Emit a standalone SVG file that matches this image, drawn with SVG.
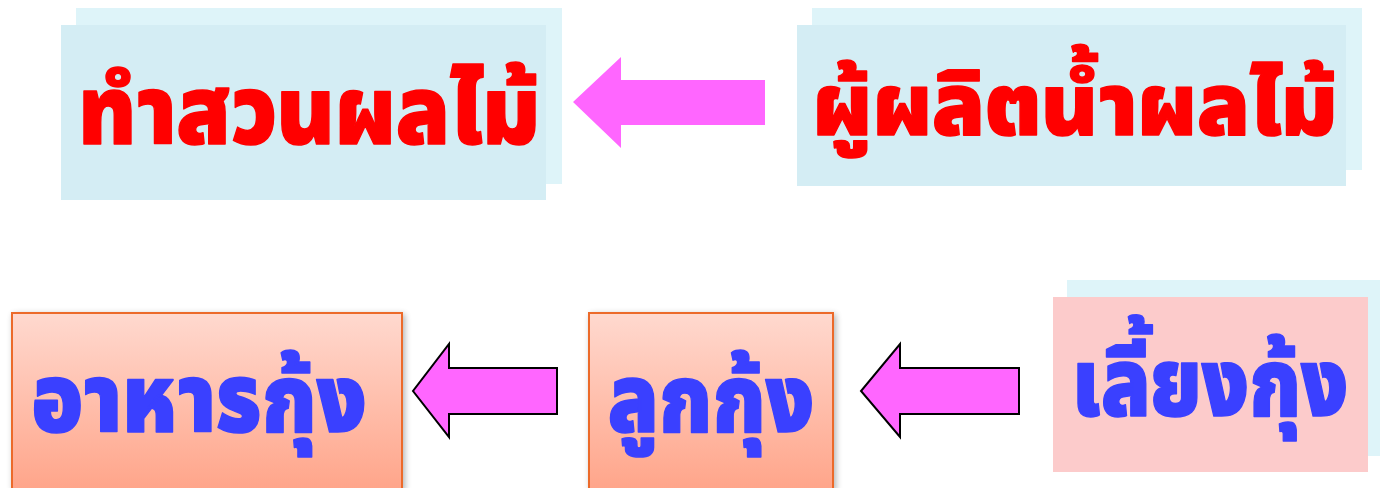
<svg xmlns="http://www.w3.org/2000/svg" width="1380" height="488" viewBox="0 0 1380 488">
  <defs>
    <linearGradient id="peach" x1="0" y1="0" x2="0" y2="1">
      <stop offset="0" stop-color="#FFD9CF"/>
      <stop offset="1" stop-color="#FFA58A"/>
    </linearGradient>
    <filter id="shadow" x="-5%" y="-5%" width="115%" height="115%">
      <feGaussianBlur in="SourceAlpha" stdDeviation="3"/>
      <feOffset dx="2" dy="2" result="b"/>
      <feComponentTransfer><feFuncA type="linear" slope="0.3"/></feComponentTransfer>
      <feMerge><feMergeNode/><feMergeNode in="SourceGraphic"/></feMerge>
    </filter>
  </defs>
  <style>
    .back { fill: #DEF4F9; }
    .front { fill: #D4EDF4; }
    .peach { fill: url(#peach); stroke: #EC6A2C; stroke-width: 2; }
    .label { font-family: "Noto Sans Thai", "Noto Sans", "DejaVu Sans", sans-serif; font-weight: 900; text-anchor: middle; stroke-width: 1.5; stroke-linejoin: round; }
    .red { fill: #FF0000; stroke: #FF0000; }
    .blue { fill: #3A40FF; stroke: #3A40FF; }
    .arrow { fill: #FF66FF; }
    .arrow-outlined { fill: #FF66FF; stroke: #000; stroke-width: 2; stroke-linejoin: miter; }
  </style>

  <g id="orchard">
    <rect class="back" x="76" y="8" width="486" height="176"/>
    <rect class="front" x="61" y="25" width="485" height="175"/>
    <text class="label red" x="309" y="144" font-size="96" textLength="462" lengthAdjust="spacingAndGlyphs">ทำสวนผลไม้</text>
  </g>

  <g id="juice-producer">
    <rect class="back" x="812" y="8" width="550" height="162"/>
    <rect class="front" x="797" y="25" width="549" height="161"/>
    <text class="label red" x="1075" y="135" font-size="86" textLength="525" lengthAdjust="spacingAndGlyphs">ผู้ผลิตน้ำผลไม้</text>
  </g>

  <g id="shrimp-feed">
    <rect class="peach" x="12" y="313" width="390" height="176" filter="url(#shadow)"/>
    <text class="label blue" x="199" y="432" font-size="96" textLength="335" lengthAdjust="spacingAndGlyphs">อาหารกุ้ง</text>
  </g>

  <g id="shrimp-fry">
    <rect class="peach" x="589" y="313" width="244" height="176" filter="url(#shadow)"/>
    <text class="label blue" x="711" y="432" font-size="96" textLength="206" lengthAdjust="spacingAndGlyphs">ลูกกุ้ง</text>
  </g>

  <g id="shrimp-farming">
    <rect class="back" x="1067" y="280" width="313" height="176"/>
    <rect x="1053" y="297" width="315" height="175" fill="#FCCBCB"/>
    <text class="label blue" x="1210" y="416" font-size="96" textLength="276" lengthAdjust="spacingAndGlyphs">เลี้ยงกุ้ง</text>
  </g>

  <g id="connectors">
    <polygon class="arrow" points="765,80 621,80 621,57 573,102 621,148 621,125 765,125"/>
    <polygon class="arrow-outlined" points="557,368 449,368 449,344 413,391 449,437 449,414 557,414"/>
    <polygon class="arrow-outlined" points="1019,368 900,368 900,344 861,391 900,437 900,414 1019,414"/>
  </g>
</svg>
